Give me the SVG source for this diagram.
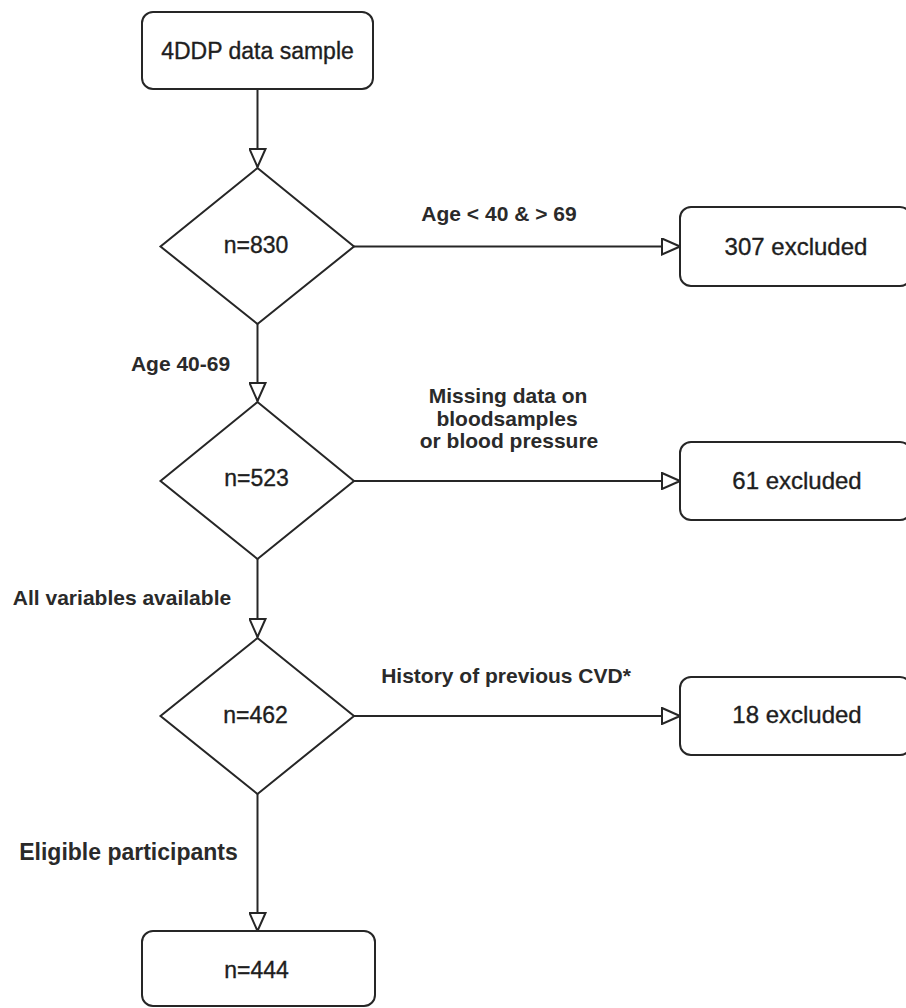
<svg xmlns="http://www.w3.org/2000/svg" width="906" height="1008" viewBox="0 0 906 1008">
<defs>
<style>
.node{fill:#fff;stroke:#262626;stroke-width:2}
.edge{fill:none;stroke:#262626;stroke-width:2}
.nt{font-family:"Liberation Sans",Arial,sans-serif;font-size:23px;fill:#1e1e1e;stroke:#1e1e1e;stroke-width:0.35;text-anchor:middle}
.xt{font-family:"Liberation Sans",Arial,sans-serif;font-size:24px;fill:#1e1e1e;stroke:#1e1e1e;stroke-width:0.35;text-anchor:middle}
.lb{font-family:"Liberation Sans",Arial,sans-serif;font-size:21px;font-weight:bold;fill:#2a2a2a;text-anchor:middle}
</style>
<marker id="arr" viewBox="0 0 20 18" refX="19" refY="9" markerWidth="20" markerHeight="18" markerUnits="userSpaceOnUse" orient="auto">
<path d="M1,1 L19,9 L1,17 Z" fill="#fff" stroke="#262626" stroke-width="2"/>
</marker>
</defs>
<rect width="906" height="1008" fill="#fff"/>
<g id="connectors">
<line class="edge" x1="257.5" y1="89" x2="257.5" y2="167" marker-end="url(#arr)"/>
<line class="edge" x1="354" y1="246.5" x2="680" y2="246.5" marker-end="url(#arr)"/>
<line class="edge" x1="257.5" y1="324" x2="257.5" y2="401" marker-end="url(#arr)"/>
<line class="edge" x1="354" y1="481" x2="680" y2="481" marker-end="url(#arr)"/>
<line class="edge" x1="257.5" y1="559" x2="257.5" y2="637" marker-end="url(#arr)"/>
<line class="edge" x1="354" y1="716" x2="680" y2="716" marker-end="url(#arr)"/>
<line class="edge" x1="257.5" y1="794" x2="257.5" y2="931" marker-end="url(#arr)"/>
<text class="lb" x="499" y="221">Age &lt; 40 &amp; &gt; 69</text>
<text class="lb" x="180.5" y="371">Age 40-69</text>
<text class="lb" x="508" y="403">Missing data on</text>
<text class="lb" x="507" y="425.5">bloodsamples</text>
<text class="lb" x="509" y="448">or blood pressure</text>
<text class="lb" x="122" y="605">All variables available</text>
<text class="lb" x="506" y="683">History of previous CVD*</text>
<text class="lb" x="128.5" y="860" style="font-size:23px">Eligible participants</text>
</g>
<g id="start">
<rect class="node" x="142" y="12" width="231" height="77" rx="11"/>
<text class="nt" x="257.5" y="59">4DDP data sample</text>
</g>
<g id="d830">
<polygon class="node" points="257.5,168 354,246.5 257.5,324 160.5,246.5"/>
<text class="nt" x="256" y="253">n=830</text>
</g>
<g id="ex307">
<rect class="node" x="680" y="207" width="231" height="79" rx="11"/>
<text class="xt" x="796" y="255">307 excluded</text>
</g>
<g id="d523">
<polygon class="node" points="257.5,402 354,481 257.5,559 160.5,481"/>
<text class="nt" x="256.5" y="486">n=523</text>
</g>
<g id="ex61">
<rect class="node" x="680" y="442" width="231" height="78" rx="11"/>
<text class="xt" x="797" y="489">61 excluded</text>
</g>
<g id="d462">
<polygon class="node" points="257.5,638 354,716 257.5,794 160.5,716"/>
<text class="nt" x="255.5" y="723">n=462</text>
</g>
<g id="ex18">
<rect class="node" x="680" y="677" width="231" height="78" rx="11"/>
<text class="xt" x="797" y="723">18 excluded</text>
</g>
<g id="final">
<rect class="node" x="142" y="931" width="233" height="75" rx="11"/>
<text class="nt" x="256.5" y="978">n=444</text>
</g>
</svg>
